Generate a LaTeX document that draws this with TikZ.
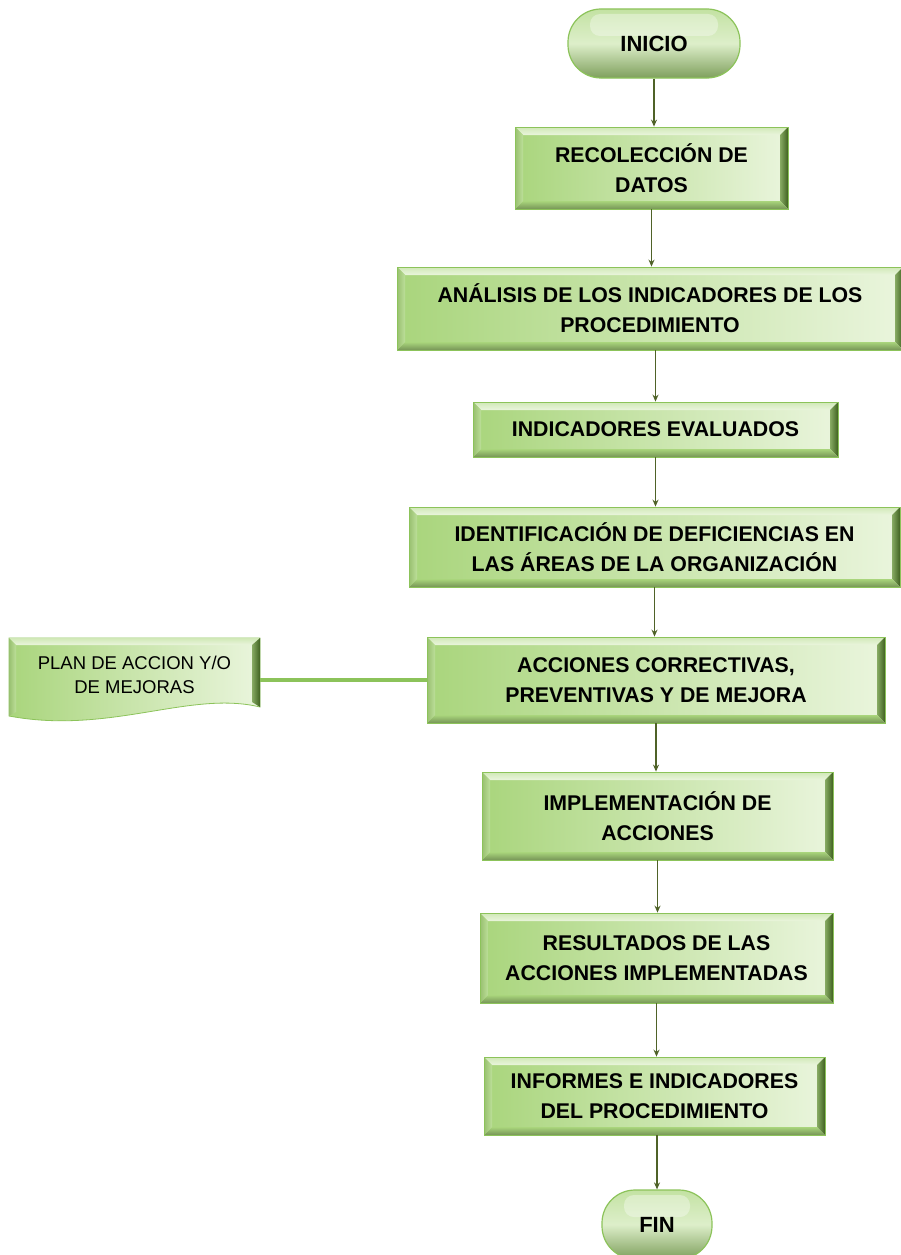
\documentclass[tikz,border=0pt]{standalone}
\usepackage{fontspec}
\setmainfont{Liberation Sans}
\usetikzlibrary{calc,arrows.meta}
\definecolor{gL}{HTML}{A9D57C}
\definecolor{gR}{HTML}{EAF5DD}
\definecolor{gEdge}{HTML}{8CC35A}
\definecolor{gDark}{HTML}{3F6120}
\definecolor{arrC}{HTML}{4F6228}
\tikzset{
  bev/.style={path picture={
    \coordinate (pA) at (path picture bounding box.north west);
    \coordinate (pB) at (path picture bounding box.north east);
    \coordinate (pC) at (path picture bounding box.south east);
    \coordinate (pD) at (path picture bounding box.south west);
    \shade[left color=gL, right color=gR] (pA) rectangle (pC);
    \shade[top color=gR!60!gL, bottom color=gR] (pA) -- (pB) -- ($(pB)+(-8pt,-8pt)$) -- ($(pA)+(8pt,-8pt)$) -- cycle;
    \shade[left color=gL!80!black, right color=gDark] (pB) -- (pC) -- ($(pC)+(-8pt,8pt)$) -- ($(pB)+(-8pt,-8pt)$) -- cycle;
    \shade[top color=gL, bottom color=gL!70!black] (pC) -- (pD) -- ($(pD)+(8pt,8pt)$) -- ($(pC)+(-8pt,8pt)$) -- cycle;
    \shade[left color=gL!90!black, right color=gL!70!gR] (pD) -- (pA) -- ($(pA)+(8pt,-8pt)$) -- ($(pD)+(8pt,8pt)$) -- cycle;
  }},
  proc/.style={bev, draw=gEdge, line width=0.8pt, align=center, inner sep=0pt,
    font=\bfseries\fontsize{21.3}{30}\selectfont},
  term/.style={rounded corners=33pt, draw=gEdge, line width=1.2pt, align=center,
    font=\bfseries\fontsize{22}{26}\selectfont,
    path picture={
      \coordinate (pA) at (path picture bounding box.north west);
      \coordinate (pC) at (path picture bounding box.south east);
      \shade[top color=gL!60!gR, bottom color=gL!75!black, middle color=gR!80!gL] (pA) rectangle (pC);
      \fill[white, opacity=0.35, rounded corners=10pt] ($(pA)+(22pt,-5pt)$) rectangle ($(pC)+(-22pt,42pt)$);
    }},
  arr/.style={draw=arrC, line width=1.3pt, -{Stealth[length=7pt,width=6pt]}},
  link/.style={draw=gEdge, line width=3.5pt},
  plantext/.style={align=center, inner sep=0pt, font=\fontsize{18.5}{24}\selectfont}
}
\begin{document}
\begin{tikzpicture}[x=1pt,y=-1pt]
\useasboundingbox (0,0) rectangle (901,1255);
\clip (0,0) rectangle (901,1255);

\node[term, minimum width=172pt, minimum height=69pt] (ini) at (654,43.5) {INICIO};
\node[proc, minimum width=273pt, minimum height=82pt] (rec) at (651.5,168) {RECOLECCIÓN DE\\DATOS};
\node[proc, minimum width=506pt, minimum height=83pt] (ana) at (650,308.5) {ANÁLISIS DE LOS INDICADORES DE LOS\\PROCEDIMIENTO};
\node[proc, minimum width=365pt, minimum height=55pt] (eva) at (655.5,429.5) {INDICADORES EVALUADOS};
\node[proc, minimum width=491pt, minimum height=80pt] (ide) at (654.5,547) {IDENTIFICACIÓN DE DEFICIENCIAS EN\\LAS ÁREAS DE LA ORGANIZACIÓN};
\node[proc, minimum width=458pt, minimum height=86pt] (acc) at (656,680) {ACCIONES CORRECTIVAS,\\PREVENTIVAS Y DE MEJORA};
\node[proc, minimum width=351pt, minimum height=88pt] (imp) at (657.5,816) {IMPLEMENTACIÓN DE\\ACCIONES};
\node[proc, minimum width=353pt, minimum height=90pt] (res) at (656.5,958) {RESULTADOS DE LAS\\ACCIONES IMPLEMENTADAS};
\node[proc, minimum width=341pt, minimum height=78pt] (inf) at (654.5,1096) {INFORMES E INDICADORES\\DEL PROCEDIMIENTO};
\node[term, minimum width=110pt, minimum height=69pt] (fin) at (657,1224.5) {FIN};

% document shape
\coordinate (dNW) at (9,638);
\coordinate (dNE) at (260,638);
\coordinate (dSE) at (260,707);
\coordinate (dSW) at (9,716);
\shade[left color=gL, right color=gR, draw=gEdge, line width=0.8pt]
  (dNW) -- (dNE) -- (dSE) .. controls (190,690) and (110,735) .. (dSW) -- cycle;
\shade[top color=gR!60!gL, bottom color=gR] (dNW) -- (dNE) -- (252,645) -- (16,645) -- cycle;
\shade[left color=gL!80!black, right color=gDark] (dNE) -- (dSE) -- (252,702) -- (252,645) -- cycle;
\shade[left color=gL!90!black, right color=gL!70!gR] (dSW) -- (dNW) -- (16,645) -- (16,712) -- cycle;
\node[plantext, minimum width=251pt, minimum height=74pt] (plan) at (134.5,675) {PLAN DE ACCION Y/O\\DE MEJORAS};

\draw[link] (acc.west -| plan.east) -- (acc.west);

\draw[arr] (ini.south) -- (ini.south |- rec.north);
\draw[arr] (rec.south) -- (rec.south |- ana.north);
\draw[arr] (ana.south -| eva.north) -- (eva.north);
\draw[arr] (eva.south) -- (eva.south |- ide.north);
\draw[arr] (ide.south) -- (ide.south |- acc.north);
\draw[arr] (acc.south) -- (acc.south |- imp.north);
\draw[arr] (imp.south) -- (imp.south |- res.north);
\draw[arr] (res.south) -- (res.south |- inf.north);
\draw[arr] (inf.south -| fin.north) -- (fin.north);
\end{tikzpicture}
\end{document}
